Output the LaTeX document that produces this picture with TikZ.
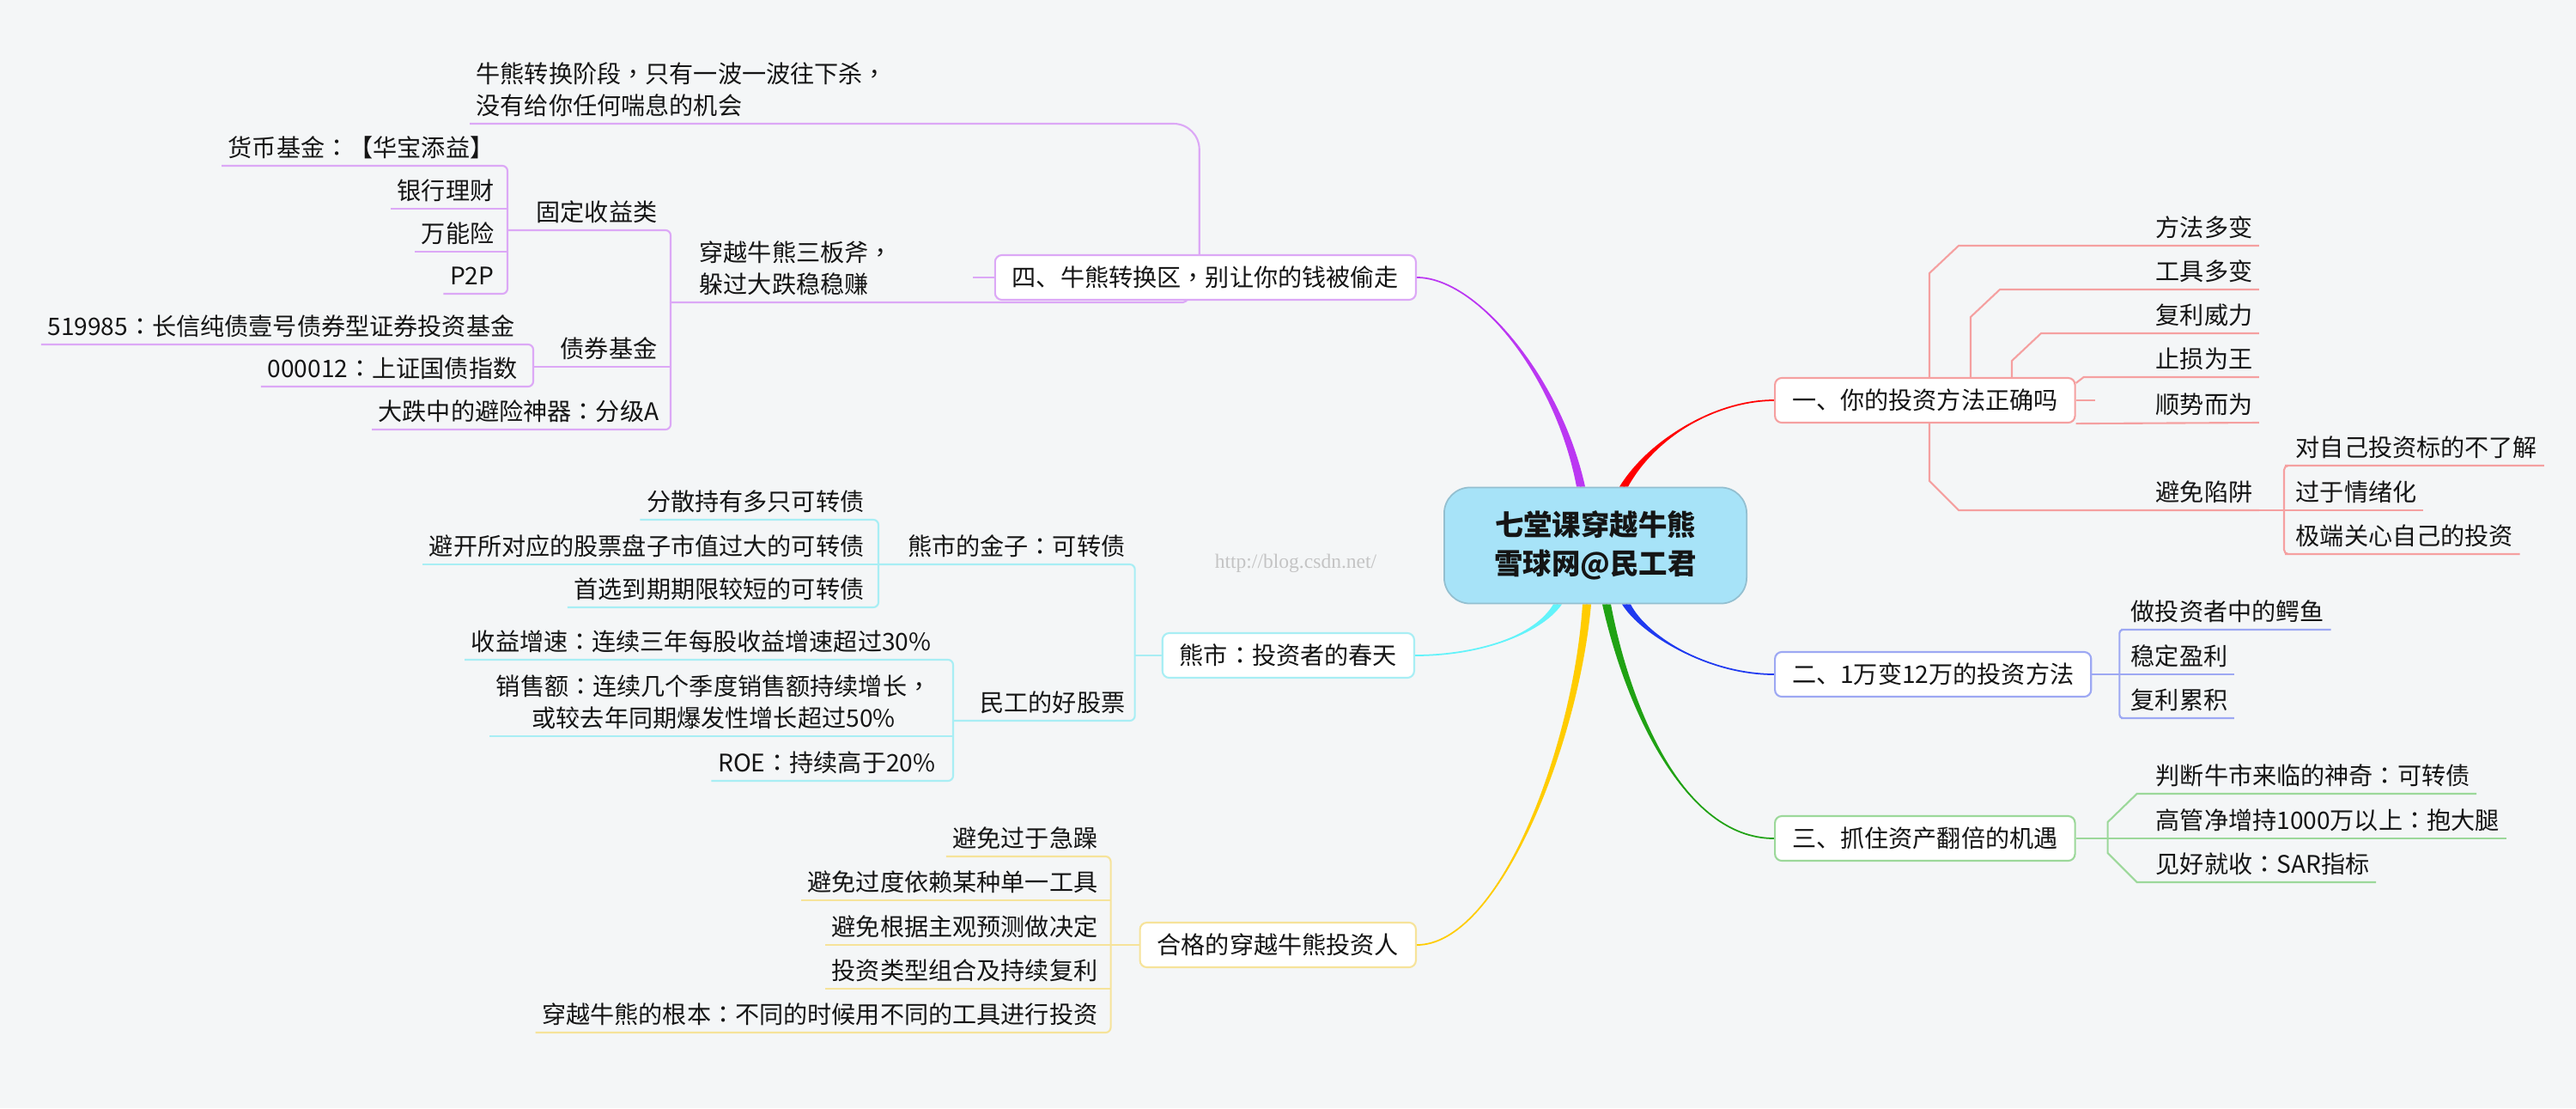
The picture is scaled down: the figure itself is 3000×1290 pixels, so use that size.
\documentclass[tikz,border=0pt]{standalone}
\usepackage{fontspec}
\setmainfont{Noto Sans CJK SC}
\newfontfamily\tcpunct{Noto Sans CJK TC}
\newfontfamily\wmfont{Liberation Serif}
\usetikzlibrary{calc}

% ---------- colours ----------
\definecolor{bgcol}{HTML}{F4F6F7}
\definecolor{txtcol}{HTML}{151515}
\definecolor{rootfill}{HTML}{A7E3F8}
\definecolor{rootline}{HTML}{93BFD0}
\definecolor{redmain}{HTML}{FF0000}
\definecolor{redsub}{HTML}{F5A0A0}
\definecolor{bluemain}{HTML}{1F3AF0}
\definecolor{bluesub}{HTML}{9DA8F3}
\definecolor{greenmain}{HTML}{20A214}
\definecolor{greensub}{HTML}{9CD89A}
\definecolor{purmain}{HTML}{BB38F2}
\definecolor{pursub}{HTML}{DCA8F6}
\definecolor{cyanmain}{HTML}{62F3FA}
\definecolor{cyansub}{HTML}{A8EEF4}
\definecolor{yelmain}{HTML}{FFCC00}
\definecolor{yelsub}{HTML}{F6E39A}
\definecolor{wmcol}{HTML}{C4C4C4}

\pgfdeclarelayer{bg}
\pgfdeclarelayer{links}
\pgfsetlayers{bg,links,main}

\newcommand{\leaffont}{\fontsize{8pt}{10.4pt}\selectfont}
\newcommand{\uldepth}{\rule[-0.1cm]{0pt}{0.1cm}}
% centred full-width punctuation
\newcommand{\fcolon}{{\tcpunct ：}}
\newcommand{\fcomma}{{\tcpunct ，}}

% ---------- chamfered elbow ----------
\newcommand{\chamfer}[4]{%
  % #1 = style, #2 = start, #3 = leaf, #4 = rise before the bend
  \draw[#1] (#2) -- ($(#2 |- #3.south)+(0,#4)$) -- ($(#2 |- #3.south)+(34,0)$) -- (#3.south east);
}

% ---------- tapered main branch ----------
\newcommand{\mainbranch}[5]{%
  % #1 = colour, #2 = start, #3 = pull at start, #4 = end, #5 = pull at end
  \fill[#1] ($(#2)+(-5,0)$) .. controls ($(#2)+(#3)+(-3,0)$) and ($(#4)+(#5)$) .. (#4)
    .. controls ($(#4)+(#5)$) and ($(#2)+(#3)+(3,0)$) .. ($(#2)+(5,0)$) -- cycle;
  \draw[#1, line width=0.5pt] (#2) .. controls ($(#2)+(#3)$) and ($(#4)+(#5)$) .. (#4);
}

\tikzset{
  root/.style={draw=rootline, fill=rootfill, line width=0.5pt, rounded corners=0.3cm,
    minimum width=3.52cm, minimum height=1.35cm, align=center, text=txtcol,
    font=\fontsize{9.5pt}{12.8pt}\selectfont\bfseries},
  topic/.style={draw=#1, fill=white, line width=0.6pt, rounded corners=0.08cm,
    inner xsep=0.2cm, inner ysep=0pt, minimum height=0.52cm, font=\leaffont, text=txtcol},
  leaf/.style={inner xsep=0.07cm, inner ysep=0pt, text depth=0.1cm, font=\leaffont, text=txtcol},
  leafm/.style={inner xsep=0.07cm, inner ysep=0pt, font=\leaffont, text=txtcol},
  wm/.style={inner sep=0pt, text=wmcol, font=\wmfont\fontsize{6.7pt}{7pt}\selectfont},
  c1/.style={draw=redsub, line width=0.6pt},
  c2/.style={draw=bluesub, line width=0.6pt},
  c3/.style={draw=greensub, line width=0.6pt},
  c4/.style={draw=pursub, line width=0.6pt},
  c5/.style={draw=cyansub, line width=0.6pt},
  c6/.style={draw=yelsub, line width=0.6pt},
}

\begin{document}
\begin{tikzpicture}[x=0.01cm, y=-0.01cm]

\useasboundingbox (0,0) rectangle (3000,1290);
\begin{pgfonlayer}{bg}
  \fill[bgcol] (0,0) rectangle (3000,1290);
\end{pgfonlayer}

% ==================================================
% centre and main topics
% ==================================================
\node[root] (root) at (1858,635) {七堂课穿越牛熊\\雪球网@民工君};
\node[wm] (wm) at (1509,656) {http://blog.csdn.net/};

\node[topic=redsub, anchor=west] (b1) at (2066,466) {一、你的投资方法正确吗};
\node[topic=bluesub, anchor=west] (b2) at (2066,785) {二、1万变12万的投资方法};
\node[topic=greensub, anchor=west] (b3) at (2066,976) {三、抓住资产翻倍的机遇};
\node[topic=pursub, anchor=east] (b4) at (1650,323) {四、牛熊转换区\fcomma 别让你的钱被偷走};
\node[topic=cyansub, anchor=east] (b5) at (1648,763) {熊市\fcolon 投资者的春天};
\node[topic=yelsub, anchor=east] (b6) at (1650,1100) {合格的穿越牛熊投资人};

% ==================================================
% 一
% ==================================================
\node[leaf, anchor=south west] (l11) at (2503,286) {方法多变};
\node[leaf, anchor=south west] (l12) at (2503,337) {工具多变};
\node[leaf, anchor=south west] (l13) at (2503,388) {复利威力};
\node[leaf, anchor=south west] (l14) at (2503,439) {止损为王};
\node[leaf, anchor=south west] (l15) at (2503,492) {顺势而为};
\node[leaf, anchor=south west] (l16) at (2503,594) {避免陷阱};
\node[leaf, anchor=south west] (l17) at (2666,542) {对自己投资标的不了解};
\node[leaf, anchor=south west] (l18) at (2666,594) {过于情绪化};
\node[leaf, anchor=south west] (l19) at (2666,645) {极端关心自己的投资};

% ==================================================
% 二 and 三
% ==================================================
\node[leaf, anchor=south west] (l21) at (2474,733) {做投资者中的鳄鱼};
\node[leaf, anchor=south west] (l22) at (2474,785) {稳定盈利};
\node[leaf, anchor=south west] (l23) at (2474,836) {复利累积};

\node[leaf, anchor=south west] (l31) at (2503,924) {判断牛市来临的神奇\fcolon 可转债};
\node[leaf, anchor=south west] (l32) at (2503,976) {高管净增持1000万以上\fcolon 抱大腿};
\node[leaf, anchor=south west] (l33) at (2503,1027) {见好就收\fcolon SAR指标};

% ==================================================
% 四
% ==================================================
\node[leafm, anchor=south west, align=left] (n41) at (547,144)
  {牛熊转换阶段\fcomma 只有一波一波往下杀\fcomma\\没有给你任何喘息的机会\uldepth};
\node[leafm, anchor=south west, align=left] (n42) at (807,352)
  {穿越牛熊三板斧\fcomma\\躲过大跌稳稳赚\uldepth};
\node[leaf, anchor=south east] (n43) at (773,268) {固定收益类};
\node[leaf, anchor=south east] (n44) at (773,427) {债券基金};
\node[leaf, anchor=south east] (n45) at (775,500) {大跌中的避险神器\fcolon 分级A};
\node[leaf, anchor=south east] (n46) at (583,193) {货币基金\fcolon 【华宝添益】};
\node[leaf, anchor=south east] (n47) at (583,243) {银行理财};
\node[leaf, anchor=south east] (n48) at (583,293) {万能险};
\node[leaf, anchor=south east] (n49) at (583,342) {P2P};
\node[leaf, anchor=south east] (n4a) at (607,401) {519985\fcolon 长信纯债壹号债券型证券投资基金};
\node[leaf, anchor=south east] (n4b) at (610,450) {000012\fcolon 上证国债指数};

% ==================================================
% 熊市
% ==================================================
\node[leaf, anchor=south east] (n51) at (1318,657) {熊市的金子\fcolon 可转债};
\node[leaf, anchor=south east] (n52) at (1318,839) {民工的好股票};
\node[leaf, anchor=south east] (n53) at (1014,605) {分散持有多只可转债};
\node[leaf, anchor=south east] (n54) at (1014,657) {避开所对应的股票盘子市值过大的可转债};
\node[leaf, anchor=south east] (n55) at (1014,707) {首选到期期限较短的可转债};
\node[leaf, anchor=south east] (n56) at (1092,768) {收益增速\fcolon 连续三年每股收益增速超过30\%};
\node[leafm, anchor=south east, align=center] (n57) at (1092,857)
  {销售额\fcolon 连续几个季度销售额持续增长\fcomma\\或较去年同期爆发性增长超过50\%\uldepth};
\node[leaf, anchor=south east] (n58) at (1097,909) {ROE\fcolon 持续高于20\%};

% ==================================================
% 合格的投资人
% ==================================================
\node[leaf, anchor=south east] (n61) at (1286,997) {避免过于急躁};
\node[leaf, anchor=south east] (n62) at (1286,1048) {避免过度依赖某种单一工具};
\node[leaf, anchor=south east] (n63) at (1286,1100) {避免根据主观预测做决定};
\node[leaf, anchor=south east] (n64) at (1286,1151) {投资类型组合及持续复利};
\node[leaf, anchor=south east] (n65) at (1286,1202) {穿越牛熊的根本\fcolon 不同的时候用不同的工具进行投资};

% ---------- bracket points ----------
\coordinate (k1e) at ($(b1.east)+(22,0)$);
\coordinate (k11) at ($(b1.north west)+(181,0)$);
\coordinate (k12) at ($(b1.north west)+(229,0)$);
\coordinate (k13) at ($(b1.north west)+(277,0)$);
\coordinate (k14) at ($(b1.north east)+(0,7)$);
\coordinate (k16) at ($(b1.south west)+(181,0)$);
\coordinate (k17) at (2660,594);
\coordinate (k2) at ($(b2.east)+(32,0)$);
\coordinate (k3) at ($(b3.east)+(37,0)$);
\coordinate (k41) at ($(b4.north west)+(239,0)$);
\coordinate (k42) at ($(b4.south west)+(225,0)$);
\coordinate (k4w) at ($(b4.west)+(-25,0)$);
\coordinate (k4) at (781,352);
\coordinate (k43) at (591,268);
\coordinate (k44) at (621,427);
\coordinate (k5) at ($(b5.west)+(-31,0)$);
\coordinate (k51) at (1023,657);
\coordinate (k52) at (1110,839);
\coordinate (k6) at ($(b6.west)+(-33,0)$);

\begin{pgfonlayer}{links}
  % main branches
  \mainbranch{purmain}{$(root.north)+(-17,0)$}{-26,-128}{b4.east}{70,0}
  \mainbranch{redmain}{$(root.north)+(33,0)$}{34,-58}{b1.west}{-66,0}
  \mainbranch{bluemain}{$(root.south)+(36,0)$}{21,37}{b2.west}{-76,0}
  \mainbranch{greenmain}{$(root.south)+(13,0)$}{24,117}{b3.west}{-106,0}
  \mainbranch{yelmain}{$(root.south)+(-10,0)$}{-13,167}{b6.east}{95,0}
  \mainbranch{cyanmain}{$(root.south)+(-44,0)$}{-24,37}{b5.east}{72,0}

  % 一
  \draw[c1] (b1.east) -- (k1e);
  \chamfer{c1}{k11}{l11}{32}
  \chamfer{c1}{k12}{l12}{32}
  \chamfer{c1}{k13}{l13}{32}
  \draw[c1] (k14) -- ($(k14 |- l14.south)+(9,0)$) -- (l14.south east);
  \draw[c1] (b1.south east) -- (l15.south east);
  \chamfer{c1}{k16}{l16}{-34}
  \draw[c1] (l16.south east) -- (k17) -- (l18.south east);
  \draw[c1, rounded corners=0.05cm] (l17.south east) -- (l17.south west) -| (k17)
    |- (l19.south west) -- (l19.south east);

  % 二
  \draw[c2] (b2.east) -- (k2) -- (l22.south east);
  \draw[c2, rounded corners=0.04cm] (l21.south east) -- (l21.south west) -| (k2)
    |- (l23.south west) -- (l23.south east);

  % 三
  \draw[c3] (b3.east) -- (k3) -- (l32.south east);
  \chamfer{c3}{k3}{l31}{33}
  \chamfer{c3}{k3}{l33}{-34}

  % 四
  \draw[c4] (b4.west) -- (k4w);
  \draw[c4, rounded corners=0.3cm] (k41) |- (n41.south west);
  \draw[c4, rounded corners=0.05cm] (k42) |- (k4);
  \draw[c4, rounded corners=0.06cm] (k43) -| (k4) |- (n45.south west);
  \draw[c4] (k44) -- (k44 -| k4);
  \draw[c4, rounded corners=0.06cm] (n46.south west) -| (k43) |- (n49.south west);
  \draw[c4] (n47.south west) -- (n47.south -| k43);
  \draw[c4] (n48.south west) -- (n48.south -| k43);
  \draw[c4, rounded corners=0.06cm] (n4a.south west) -| (k44) |- (n4b.south west);

  % 熊市
  \draw[c5] (b5.west) -- (k5);
  \draw[c5, rounded corners=0.06cm] (k51) -| (k5) |- (k52);
  \draw[c5, rounded corners=0.06cm] (n53.south west) -| (k51) |- (n55.south west);
  \draw[c5] (n54.south west) -- (k51);
  \draw[c5, rounded corners=0.06cm] (n56.south west) -| (k52) |- (n58.south west);
  \draw[c5] (n57.south west) -- (n57.south -| k52);

  % 合格的投资人
  \draw[c6] (b6.west) -- (k6) -- (n63.south west);
  \draw[c6, rounded corners=0.06cm] (n61.south west) -| (k6) |- (n65.south west);
  \draw[c6] (n62.south west) -- (n62.south -| k6);
  \draw[c6] (n64.south west) -- (n64.south -| k6);
\end{pgfonlayer}

\end{tikzpicture}
\end{document}
